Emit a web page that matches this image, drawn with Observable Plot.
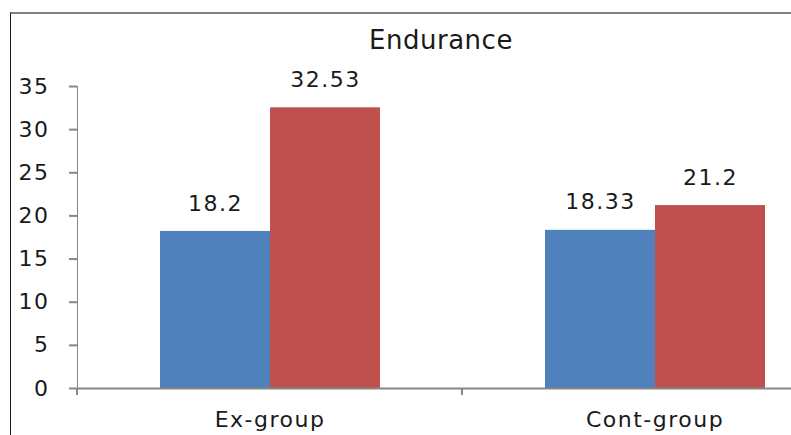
<!DOCTYPE html>
<html><head><meta charset="utf-8">
<script src="https://cdn.jsdelivr.net/npm/d3@7"></script>
<script src="https://cdn.jsdelivr.net/npm/@observablehq/plot@0.6"></script>
<style>
html,body{margin:0;padding:0;background:#fff;}
#wrap{position:relative;width:791px;height:435px;overflow:hidden;font-family:"DejaVu Sans",sans-serif;}
#box{position:absolute;left:10px;top:12px;width:900px;height:500px;border-left:1px solid #1a1a1a;border-top:2px solid #7f7f7f;}
#title{position:absolute;left:441px;top:27px;transform:translateX(-50%);font-size:26px;line-height:26px;color:#1a1a1a;white-space:nowrap;letter-spacing:0.5px;}
#chart{position:absolute;left:0;top:0;}
#chart svg text{fill:#1a1a1a;letter-spacing:1.5px;}
#chart svg g[aria-label*="y-axis"]{stroke-width:2px;}
</style></head>
<body><div id="wrap"><div id="box"></div><div id="title">Endurance</div><div id="chart"></div></div>
<script>
// Endurance scores per group, before and after
const groups = ["Ex-group", "Cont-group"];
const series = ["Pre-test", "Post-test"];
const preValues = [18.2, 18.33];
const postValues = [32.53, 21.2];
const yTicks = [0, 5, 10, 15, 20, 25, 30, 35];
const colors = ["#4F81BD", "#C0504D"];

const rows = groups.flatMap((g, i) => [
  {group: g, series: series[0], value: preValues[i]},
  {group: g, series: series[1], value: postValues[i]}
]);

const chart = Plot.plot({
  width: 791, height: 435,
  marginLeft: 77, marginRight: 0, marginTop: 86, marginBottom: 47,
  style: {background: "transparent", color: "#868686", fontFamily: "DejaVu Sans, sans-serif", fontSize: "22px", overflow: "visible"},
  facet: {data: rows, x: "group"},
  fx: {domain: groups, range: [77, 847], padding: 0, label: null, tickSize: 0, tickPadding: 23, axis: "bottom"},
  x: {domain: series, paddingInner: 0, paddingOuter: 0.75, axis: null},
  y: {domain: [0, 35], ticks: yTicks, tickSize: 8, tickPadding: 20, line: true, label: null},
  color: {domain: series, range: colors},
  marks: [
    Plot.barY(rows, {x: "series", y: "value", fill: "series"}),
    Plot.ruleY([0], {stroke: "#868686", strokeWidth: 2}),
    Plot.text(rows, {x: "series", y: "value", text: d => String(d.value), dy: -28, fill: "#1a1a1a", fontSize: 22})
  ]
});
document.getElementById("chart").appendChild(chart);

// category boundary ticks under the baseline
const fxs = chart.scale("fx");
const band = d3.scaleBand(fxs.domain, fxs.range).paddingInner(fxs.paddingInner ?? 0).paddingOuter(fxs.paddingOuter ?? 0);
const ys = chart.scale("y");
const y0 = d3.scaleLinear(ys.domain, ys.range)(0);
const edges = [...fxs.domain.map(d => band(d)), band(fxs.domain[fxs.domain.length - 1]) + band.bandwidth()];
d3.select(chart).append("g")
  .selectAll("line").data(edges).join("line")
  .attr("x1", d => d).attr("x2", d => d)
  .attr("y1", y0).attr("y2", y0 + 7)
  .attr("stroke", "#868686").attr("stroke-width", 2);
</script>
</body></html>
